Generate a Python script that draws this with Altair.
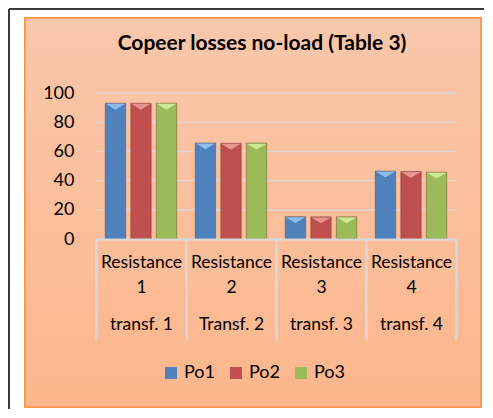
import altair as alt
import pandas as pd

categories = ["Resistance||1|||transf. 1", "Resistance||2|||Transf. 2",
              "Resistance||3|||transf. 3", "Resistance||4|||transf.  4"]
series = ["Po1", "Po2", "Po3"]
po1 = [93, 65.8, 15.3, 46.6]
po2 = [93, 65.6, 15.2, 46.2]
po3 = [93, 65.7, 15.2, 45.8]
y_ticks = [0, 20, 40, 60, 80, 100]
colors = ["#4f81bd", "#c0504d", "#9bbb59"]
cap_colors = ["#96c2f2", "#ec9c9a", "#d4ee9c"]

rows = []
for s, vals in zip(series, [po1, po2, po3]):
    for c, v in zip(categories, vals):
        rows.append({"cat": c, "series": s, "value": v})
df = pd.DataFrame(rows)
grid_df = pd.DataFrame({"v": y_ticks})

W, H = 360, 146
FONT = "Lato"

y_axis = alt.Axis(title=None, values=y_ticks, grid=False, ticks=False,
                  domain=False, zindex=1, labelFont=FONT, labelFontSize=18,
                  labelColor="black", labelPadding=22, labelOverlap=False)
y_scale = alt.Scale(domain=[0, 100])

base = alt.Chart(df)

frame = base.mark_rect(fill="white", strokeWidth=0).encode(
    x=alt.value(-87), x2=alt.value(388), y=alt.value(-84), y2=alt.value(316)
)
border_left = base.mark_rule(color="#3a3a3a", strokeWidth=1.5).encode(
    x=alt.value(-87), y=alt.value(-84), y2=alt.value(316)
)
border_top = base.mark_rule(color="#3a3a3a", strokeWidth=1.5).encode(
    x=alt.value(-87), x2=alt.value(388), y=alt.value(-84)
)
panel = base.mark_rect(
    fill=alt.Gradient(
        gradient="linear",
        stops=[alt.GradientStop(color="#f9c7ab", offset=0),
               alt.GradientStop(color="#fdb68c", offset=1)],
        x1=0, x2=0, y1=0, y2=1,
    ),
    stroke="#f7964a", strokeWidth=1.5,
).encode(x=alt.value(-71), x2=alt.value(385), y=alt.value(-75), y2=alt.value(314))

grid = alt.Chart(grid_df).mark_rule(color="#e2d3cf", strokeWidth=1.5).encode(
    y=alt.Y("v:Q", scale=y_scale, axis=y_axis)
)

ZW = "\u200b"
label_expr = "split(replace(replace(replace(datum.label, '||', '|{z}|'), '||', '|{z}|'), '||', '|{z}|'), '|')".format(z=ZW)

x_enc = alt.X("cat:N", sort=categories, scale=alt.Scale(paddingInner=0, paddingOuter=0),
              axis=alt.Axis(title=None, labelAngle=0, zindex=1,
                            labelExpr=label_expr,
                            labelFont=FONT, labelFontSize=17.5, labelColor="black",
                            labelLineHeight=12.5, labelPadding=-86,
                            tickBand="extent", tickSize=100, tickColor="#d9d9d9",
                            tickWidth=2.5, domainColor="#d9d9d9", domainWidth=2,
                            labelOverlap=False, labelLimit=200))
xo_enc = alt.XOffset("series:N", sort=series,
                     scale=alt.Scale(paddingInner=0.2, paddingOuter=0.36))

bars = base.mark_bar(stroke="rgba(70,40,30,0.35)", strokeWidth=1).encode(
    x=x_enc,
    xOffset=xo_enc,
    y=alt.Y("value:Q", scale=y_scale, axis=y_axis),
    color=alt.Color("series:N", sort=series,
                    scale=alt.Scale(domain=series, range=colors),
                    legend=alt.Legend(title=None, orient="none", legendX=66, legendY=271,
                                      direction="horizontal", symbolType="square",
                                      symbolSize=144, symbolStrokeWidth=0,
                                      labelFont=FONT, labelFontSize=18,
                                      labelColor="black", labelOffset=4,
                                      columnPadding=12, padding=0, zindex=1)),
)

caps = base.mark_point(shape="M-1,-0.3L1,-0.3L0,0.3Z", filled=True, opacity=0.9,
                       size=380, yOffset=3.5, strokeWidth=0).encode(
    x=x_enc,
    xOffset=xo_enc,
    y=alt.Y("value:Q", scale=y_scale, axis=y_axis),
    fill=alt.Fill("series:N", sort=series,
                  scale=alt.Scale(domain=series, range=cap_colors), legend=None),
)

chart = alt.layer(frame, border_left, border_top, panel, grid, bars, caps).properties(
    width=W, height=H,
    padding=0,
    title=alt.TitleParams("Copeer losses no-load (Table 3)", font=FONT, fontSize=21,
                          fontWeight="bold", color="black", anchor="middle",
                          frame="group", dx=-14, offset=-46),
).resolve_scale(fill="independent").configure_view(stroke=None)

chart.save("out.html", embed_options={"renderer": "svg", "actions": False})
